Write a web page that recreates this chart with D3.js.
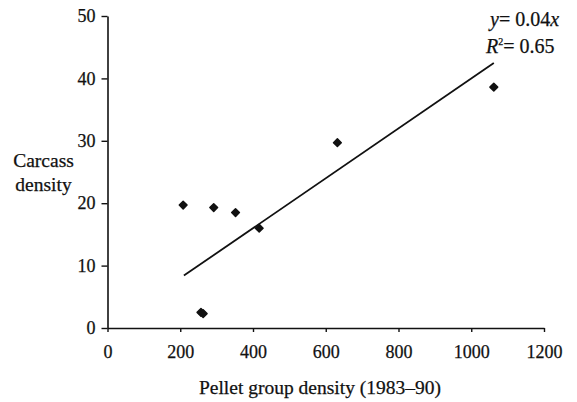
<!DOCTYPE html>
<html>
<head>
<meta charset="utf-8">
<script src="https://cdn.jsdelivr.net/npm/d3@7.9.0/dist/d3.min.js"></script>
<style>
  html, body { margin: 0; padding: 0; background: #fff; }
  svg { display: block; }
  svg text { font-family: "Liberation Serif", "Times New Roman", serif; fill: #111; stroke: #111; stroke-width: 0.25px; }
  .axis path, .axis line { stroke: #111; }
</style>
</head>
<body>
<div id="chart"></div>
<script>
// ---- data ----
const pelletDensity  = [208, 257, 263, 292, 352, 417, 632, 1062];
const carcassDensity = [19.7, 2.5, 2.3, 19.3, 18.5, 16.0, 29.7, 38.6];
const xTicks = [0, 200, 400, 600, 800, 1000, 1200];
const yTicks = [0, 10, 20, 30, 40, 50];
const fitSlope = 0.04;
const fitExtent = [210, 1062];
const eqLines = ['y= 0.04x', 'R²= 0.65'];

const serif = '"Liberation Serif", "Times New Roman", serif';

function render() {
  const width = 577, height = 402;
  const svg = d3.select('#chart').append('svg')
    .attr('width', width).attr('height', height)
    .attr('font-family', serif);

  const x = d3.scaleLinear().domain([0, 1200]).range([107.5, 544]);
  const y = d3.scaleLinear().domain([0, 50]).range([328, 16]);

  // axes
  svg.append('g')
    .attr('class', 'axis')
    .attr('transform', `translate(0,${y(0)})`)
    .call(d3.axisBottom(x).tickValues(xTicks).tickFormat(d3.format('d'))
      .tickSize(4).tickPadding(13).tickSizeOuter(0))
    .attr('font-family', serif).attr('font-size', 18)
    .call(g => g.select('.domain').attr('stroke-width', 1.6))
    .call(g => g.selectAll('.tick line').attr('stroke-width', 1.4));

  svg.append('g')
    .attr('class', 'axis')
    .attr('transform', `translate(${x(0)},0)`)
    .call(d3.axisLeft(y).tickValues(yTicks).tickSize(6).tickPadding(6).tickSizeOuter(0))
    .attr('font-family', serif).attr('font-size', 18)
    .call(g => g.select('.domain').attr('stroke-width', 1.6))
    .call(g => g.selectAll('.tick line').attr('stroke-width', 1.4));

  // axis titles
  svg.append('text')
    .attr('x', 320).attr('y', 394)
    .attr('text-anchor', 'middle')
    .attr('font-size', 19.5)
    .text('Pellet group density (1983–90)');

  const yt = svg.append('text')
    .attr('text-anchor', 'middle')
    .attr('font-size', 19.5);
  yt.append('tspan').attr('x', 43.5).attr('y', 167).text('Carcass');
  yt.append('tspan').attr('x', 43.5).attr('y', 191).text('density');

  // regression line
  svg.append('line')
    .attr('x1', x(fitExtent[0])).attr('y1', y(fitSlope * fitExtent[0]))
    .attr('x2', x(fitExtent[1])).attr('y2', y(fitSlope * fitExtent[1]))
    .attr('stroke', '#111')
    .attr('stroke-width', 1.8);

  // points (small diamonds)
  const pts = d3.zip(pelletDensity, carcassDensity);
  svg.append('g').selectAll('path')
    .data(pts)
    .join('path')
    .attr('d', d3.symbol(d3.symbolSquare, 30))
    .attr('transform', d => `translate(${x(d[0])},${y(d[1])}) rotate(45)`)
    .attr('fill', '#111')
    .attr('stroke', '#111')
    .attr('stroke-width', 1.5)
    .attr('stroke-linejoin', 'round');

  // equation
  const eq = svg.append('g').attr('font-size', 20);
  const t1 = eq.append('text').attr('x', 490).attr('y', 26);
  t1.append('tspan').attr('font-style', 'italic').text('y');
  t1.append('tspan').text(eqLines[0].slice(1, -1));
  t1.append('tspan').attr('font-style', 'italic').text('x');

  const t2 = eq.append('text').attr('x', 486).attr('y', 53);
  t2.append('tspan').attr('font-style', 'italic').text('R');
  t2.append('tspan').attr('font-size', 10).attr('dy', -8).text('2');
  t2.append('tspan').attr('dy', 8).text(eqLines[1].slice(2));
}

render();
</script>
</body>
</html>
